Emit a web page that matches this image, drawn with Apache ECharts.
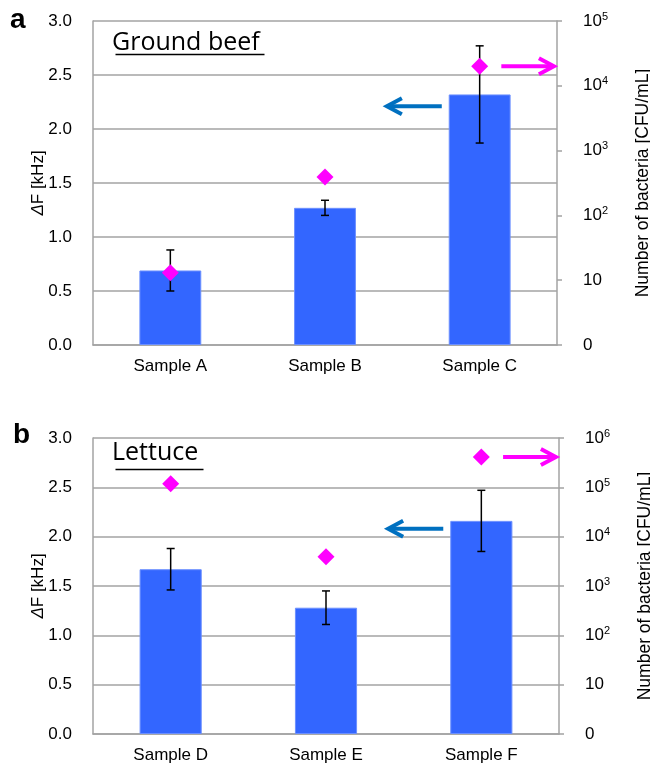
<!DOCTYPE html>
<html>
<head>
<meta charset="utf-8">
<script src="https://cdn.jsdelivr.net/npm/echarts@6/dist/echarts.min.js"></script>
<style>
  html, body { margin: 0; padding: 0; background: #fff; }
  #chart { width: 650px; height: 765px; }
</style>
</head>
<body>
<div id="chart"></div>
<script>
// panel a: ground beef
const categoriesA = ['Sample A', 'Sample B', 'Sample C'];
const shiftA = [0.69, 1.27, 2.32];
const shiftErrA = [0.19, 0.07, 0.45];
const bacteriaA = [13, 390, 20000];

// panel b: lettuce
const categoriesB = ['Sample D', 'Sample E', 'Sample F'];
const shiftB = [1.67, 1.28, 2.16];
const shiftErrB = [0.21, 0.17, 0.31];
const bacteriaB = [118000, 3900, 410000];

// arrows: [category index, level]
const blueArrowA = [[2, 2.21]];
const blueArrowB = [[2, 2.08]];

const GRAY = '#a3a3a3';
const BAR = '#3366ff';
const PINK = '#ff00ff';
const ARROW_BLUE = '#0070c0';
const LABEL_FONT = '"Liberation Sans", Arial, sans-serif';

const chart = echarts.init(document.getElementById('chart'));

const supLabel = v => {
  const n = Math.round(Math.log10(v));
  if (n === 0) return '0';
  if (n === 1) return '10';
  return '10{sup|' + n + '}';
};

const xAxisCfg = (idx, cats) => ({
  type: 'category',
  gridIndex: idx,
  data: cats,
  axisLine: { lineStyle: { color: GRAY, width: 1.5 } },
  axisTick: { show: false },
  axisLabel: { color: '#000', fontSize: 17, fontFamily: LABEL_FONT, margin: 13 }
});

const leftAxisCfg = idx => ({
  type: 'value',
  gridIndex: idx,
  min: 0,
  max: 3,
  interval: 0.5,
  name: '{i|Δ}F [kHz]',
  nameLocation: 'middle',
  nameGap: 46,
  nameMoveOverlap: false,
  nameTextStyle: {
    color: '#000', fontSize: 17, fontFamily: LABEL_FONT,
    rich: { i: { fontStyle: 'italic', fontSize: 17, fontFamily: LABEL_FONT } }
  },
  axisLine: { show: true, lineStyle: { color: GRAY, width: 1.5 } },
  axisTick: { show: false },
  axisLabel: { color: '#000', fontSize: 17, fontFamily: LABEL_FONT, margin: 21, formatter: v => v.toFixed(1) },
  splitLine: { lineStyle: { color: GRAY, width: 1.5 } }
});

const rightAxisCfg = (idx, maxVal, splits) => ({
  type: 'log',
  logBase: 10,
  gridIndex: idx,
  min: 1,
  max: maxVal,
  splitNumber: splits,
  position: 'right',
  name: 'Number of bacteria [CFU/mL]',
  nameLocation: 'middle',
  nameGap: 77,
  nameMoveOverlap: false,
  nameTextStyle: { color: '#000', fontSize: 17.5, fontFamily: LABEL_FONT },
  axisLine: { show: true, lineStyle: { color: GRAY, width: 1.5 } },
  axisTick: { show: true, inside: false, length: 5, lineStyle: { color: GRAY, width: 1.5 } },
  axisLabel: {
    color: '#000', fontSize: 17, fontFamily: LABEL_FONT, margin: 26,
    formatter: supLabel,
    rich: { sup: { fontSize: 11, fontFamily: LABEL_FONT, verticalAlign: 'top', padding: [0, 0, 9, 0] } }
  },
  splitLine: { show: false }
});

const errorRender = (params, api) => {
  const x = api.value(0);
  const hi = api.coord([x, api.value(1) + api.value(2)]);
  const lo = api.coord([x, api.value(1) - api.value(2)]);
  const cap = 4;
  const style = { stroke: '#000', lineWidth: 1.5 };
  return {
    type: 'group',
    children: [
      { type: 'line', shape: { x1: hi[0], y1: hi[1], x2: lo[0], y2: lo[1] }, style },
      { type: 'line', shape: { x1: hi[0] - cap, y1: hi[1], x2: hi[0] + cap, y2: hi[1] }, style },
      { type: 'line', shape: { x1: lo[0] - cap, y1: lo[1], x2: lo[0] + cap, y2: lo[1] }, style }
    ]
  };
};

// arrow drawn relative to a category band; from/to are fractions of the band width
const arrowRender = (from, to, color) => (params, api) => {
  const c = api.coord([api.value(0), api.value(1)]);
  const band = api.size([1, 0])[0];
  const x1 = c[0] + from * band;
  const x2 = c[0] + to * band;
  const dir = x1 > x2 ? 1 : -1;
  const style = { stroke: color, lineWidth: 4, fill: null, lineJoin: 'miter' };
  return {
    type: 'group',
    children: [
      { type: 'line', shape: { x1: x1, y1: c[1], x2: x2 + dir * 2, y2: c[1] }, style },
      { type: 'polyline', shape: { points: [[x2 + dir * 15, c[1] - 8], [x2, c[1]], [x2 + dir * 15, c[1] + 8]] }, style }
    ]
  };
};

const panelSeries = (g, shift, err, bacteria, blueArrow) => {
  const xi = g, yl = g * 2, yr = g * 2 + 1;
  return [
    {
      type: 'bar', xAxisIndex: xi, yAxisIndex: yl,
      data: shift, barWidth: '40%',
      itemStyle: { color: BAR, borderColor: '#6b8fff', borderWidth: 1 },
      z: 2
    },
    {
      type: 'custom', xAxisIndex: xi, yAxisIndex: yl,
      data: shift.map((v, i) => [i, v, err[i]]),
      renderItem: errorRender, z: 4
    },
    {
      type: 'scatter', xAxisIndex: xi, yAxisIndex: yr,
      data: bacteria.map((v, i) => [i, v]),
      symbol: 'diamond', symbolSize: [17, 17],
      itemStyle: { color: PINK, opacity: 1 }, z: 5
    },
    {
      type: 'custom', xAxisIndex: xi, yAxisIndex: yl,
      data: blueArrow, renderItem: arrowRender(-0.245, -0.6, ARROW_BLUE), z: 6
    },
    {
      type: 'custom', xAxisIndex: xi, yAxisIndex: yr,
      data: [[2, bacteria[2]]], renderItem: arrowRender(0.14, 0.48, PINK), z: 6
    }
  ];
};

const titleFont = '"Open Sans", "Noto Sans", sans-serif';

const option = {
  animation: false,
  backgroundColor: '#fff',
  grid: [
    { left: 93, right: 93, top: 21, height: 324, outerBoundsMode: 'none' },
    { left: 93, right: 91, top: 438, height: 296, outerBoundsMode: 'none' }
  ],
  xAxis: [xAxisCfg(0, categoriesA), xAxisCfg(1, categoriesB)],
  yAxis: [leftAxisCfg(0), rightAxisCfg(0, 100000, 5), leftAxisCfg(1), rightAxisCfg(1, 1000000, 6)],
  series: [
    ...panelSeries(0, shiftA, shiftErrA, bacteriaA, blueArrowA),
    ...panelSeries(1, shiftB, shiftErrB, bacteriaB, blueArrowB)
  ],
  graphic: [
    { type: 'text', left: 10, top: 6, style: { text: 'a', font: 'bold 28px "Liberation Sans", Arial, sans-serif', fill: '#000' } },
    { type: 'text', left: 13, top: 421, style: { text: 'b', font: 'bold 28px "Liberation Sans", Arial, sans-serif', fill: '#000' } },
    { type: 'text', left: 112, top: 30, style: { text: 'Ground beef', font: '25px ' + titleFont, fill: '#000' } },
    { type: 'line', left: 113, top: 52, shape: { x1: 0, y1: 0, x2: 149, y2: 0 }, style: { stroke: '#000', lineWidth: 1.5 } },
    { type: 'text', left: 112, top: 440, style: { text: 'Lettuce', font: '25px ' + titleFont, fill: '#000' } },
    { type: 'line', left: 113, top: 467, shape: { x1: 0, y1: 0, x2: 88, y2: 0 }, style: { stroke: '#000', lineWidth: 1.5 } }
  ]
};

chart.setOption(option);
</script>
</body>
</html>
